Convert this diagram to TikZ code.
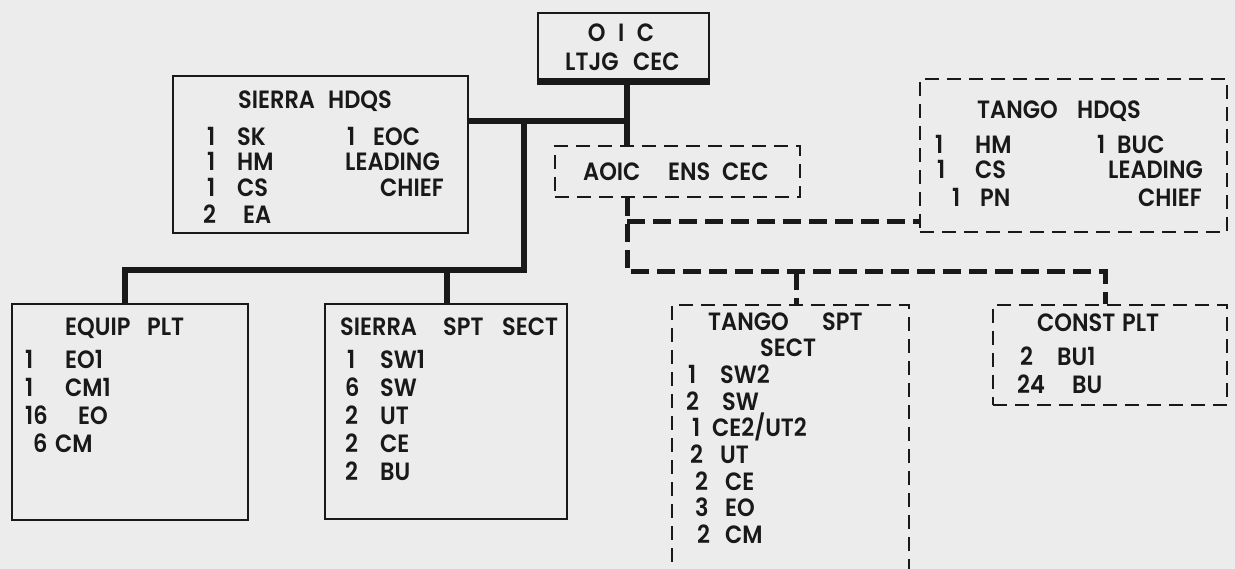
\documentclass[tikz,border=0pt]{standalone}
\usepackage{fontspec}
\setmainfont{Poppins}[UprightFont=* SemiBold,FakeStretch=0.9]
\definecolor{paper}{RGB}{236,236,236}
\definecolor{ink}{RGB}{25,25,25}
\newcommand{\ent}[6]{\node[lbl] (#1n) at (#2,#4) {#5}; \node[lbl] (#1w) at (#3,#4) {#6};}
\begin{document}
\begin{tikzpicture}[x=1pt,y=-1pt,
  lbl/.style={anchor=west,inner sep=0pt,text height=17.5pt,text depth=0pt,font=\fontsize{25}{29}\selectfont,text=ink},
  clbl/.style={lbl,anchor=center},
  solidbox/.style={draw=ink,line width=2.5pt,inner sep=0pt},
  dashbox/.style={draw=ink,line width=2pt,dash pattern=on 14pt off 8pt,inner sep=0pt},
  thickline/.style={draw=ink,line width=6pt,line join=miter},
  thickdash/.style={draw=ink,line width=5pt,dash pattern=on 18pt off 8pt,line join=miter},
]
\fill[paper] (0,0) rectangle (1235,569);
\useasboundingbox (0,0) rectangle (1235,569);
% boxes
\node[solidbox,minimum width=171pt,minimum height=71pt] (oic) at (623.5,48.5) {};
\node[dashbox,minimum width=245pt,minimum height=51pt] (aoic) at (677.5,171.5) {};
\node[solidbox,minimum width=295pt,minimum height=157pt] (shq) at (320.5,154.5) {};
\node[dashbox,minimum width=307pt,minimum height=153pt] (thq) at (1073.5,155.5) {};
\node[solidbox,minimum width=236pt,minimum height=216pt] (equip) at (130,412) {};
\node[solidbox,minimum width=242pt,minimum height=215pt] (sspt) at (446,411.5) {};
\node[dashbox,minimum width=237pt,minimum height=295pt] (tspt) at (790.5,452.5) {};
\node[dashbox,minimum width=234pt,minimum height=100pt] (const) at (1110,355) {};
\draw[ink,line width=7pt] ([yshift=3.5pt]oic.south west) -- ([yshift=3.5pt]oic.south east);
% junctions
\coordinate (s1) at (627,121);
\coordinate (j1) at (524,121);
\coordinate (j2) at (524,270);
\coordinate (j3) at (125,270);
\coordinate (j4) at (447,270);
\coordinate (d1) at (627,272);
\coordinate (d2) at (1105,272);
\coordinate (d3) at (627,222);
\coordinate (d4) at (796,272);
% connectors
\draw[thickline] (oic.south -| s1) -- (aoic.north -| s1);
\draw[thickline] (shq.east |- s1) -- (s1);
\draw[thickline] (j1) -- (j2) -- (j3) -- (equip.north -| j3);
\draw[thickline] (j4) -- (sspt.north -| j4);
\draw[thickdash] (aoic.south -| d1) -- (d1) -- (d2) -- (const.north -| d2);
\draw[thickdash] (d3) -- (thq.west |- d3);
\draw[thickdash] (d4) -- (tspt.north -| d4);
% OIC
\node[clbl] (oict) at (621,33) {O\hspace{0.5em}I\hspace{0.5em}C};
\node[lbl] (oicl) at (565,62) {LTJG};
\node[lbl] (oicc) at (633,62) {CEC};
% AOIC
\node[lbl] (aoa) at (583,172) {AOIC};
\node[lbl] (aob) at (668,172) {ENS};
\node[lbl] (aoc) at (722,172) {CEC};
% Sierra HDQS
\node[lbl] (shqa) at (238,100) {SIERRA};
\node[lbl] (shqb) at (328,100) {HDQS};
\ent{sa}{207}{237}{137}{1}{SK}
\ent{sb}{207}{237}{162}{1}{HM}
\ent{sc}{207}{237}{188}{1}{CS}
\ent{sd}{203}{243}{215}{2}{EA}
\ent{se}{347}{373}{137}{1}{EOC}
\node[lbl] (sf) at (345,162) {LEADING};
\node[lbl] (sg) at (380,188) {CHIEF};
% Tango HDQS
\node[lbl] (thqa) at (977,110) {TANGO};
\node[lbl] (thqb) at (1077,110) {HDQS};
\ent{ta}{935}{975}{145}{1}{HM}
\ent{tb}{937}{975}{170}{1}{CS}
\ent{tc}{952}{980}{198}{1}{PN}
\ent{td}{1097}{1117}{145}{1}{BUC}
\node[lbl] (te) at (1108,170) {LEADING};
\node[lbl] (tf) at (1138,198) {CHIEF};
% Equip PLT
\node[lbl] (eqa) at (65,327) {EQUIP};
\node[lbl] (eqb) at (147,327) {PLT};
\ent{ea}{25}{65}{360}{1}{EO1}
\ent{eb}{25}{65}{388}{1}{CM1}
\ent{ec}{25}{78}{416}{16}{EO}
\ent{ed}{33}{55}{444}{6}{CM}
% Sierra SPT SECT
\node[lbl] (spa) at (340,327) {SIERRA};
\node[lbl] (spb) at (443,327) {SPT};
\node[lbl] (spc) at (502,327) {SECT};
\ent{pa}{347}{380}{360}{1}{SW1}
\ent{pb}{345}{380}{388}{6}{SW}
\ent{pc}{345}{380}{416}{2}{UT}
\ent{pd}{345}{380}{444}{2}{CE}
\ent{pe}{345}{380}{472}{2}{BU}
% Tango SPT SECT
\node[lbl] (tpa) at (708,322) {TANGO};
\node[lbl] (tpb) at (822,322) {SPT};
\node[lbl] (tpc) at (760,348) {SECT};
\ent{qa}{688}{720}{375}{1}{SW2}
\ent{qb}{686}{722}{402}{2}{SW}
\ent{qc}{692}{712}{428}{1}{CE2/UT2}
\ent{qd}{690}{720}{455}{2}{UT}
\ent{qe}{695}{725}{482}{2}{CE}
\ent{qf}{695}{725}{508}{3}{EO}
\ent{qg}{697}{725}{535}{2}{CM}
% Const PLT
\node[lbl] (cpa) at (1037,323) {CONST};
\node[lbl] (cpb) at (1122,323) {PLT};
\ent{ca}{1020}{1057}{357}{2}{BU1}
\ent{cb}{1017}{1072}{385}{24}{BU}
\end{tikzpicture}
\end{document}
